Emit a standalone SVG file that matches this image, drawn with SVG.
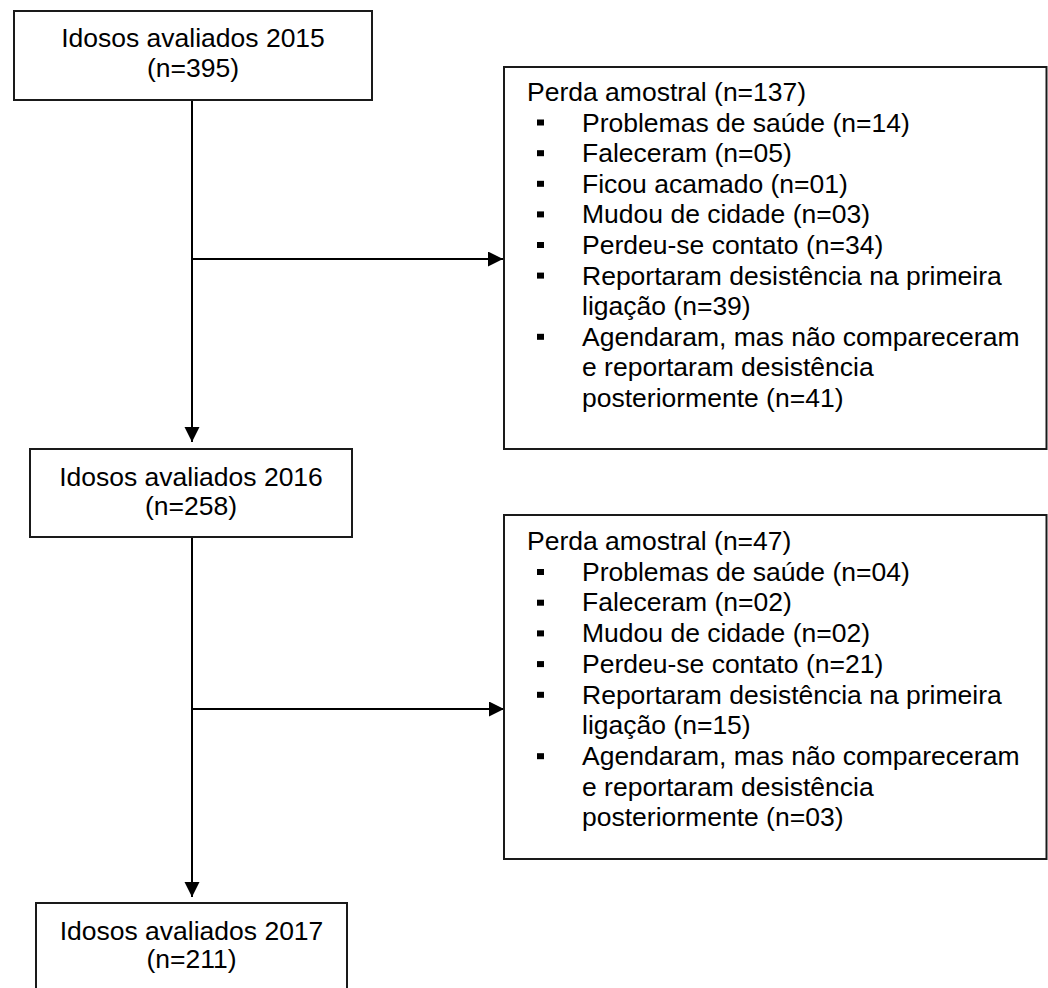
<svg xmlns="http://www.w3.org/2000/svg" width="1048" height="988" viewBox="0 0 1048 988">
<style>
.box{fill:#fff;stroke:#1a1a1a;stroke-width:2}
.t{font-family:"Liberation Sans",Arial,sans-serif;font-size:26.5px;fill:#000}
.c{text-anchor:middle}
.ln{fill:none;stroke:#000;stroke-width:2}
.b{fill:#000}
</style>
<defs>
<marker id="ah" markerUnits="userSpaceOnUse" markerWidth="16" markerHeight="16" refX="15" refY="7.5" orient="auto">
<path d="M0,0 L15,7.5 L0,15 Z" fill="#000"/>
</marker>
</defs>
<g id="connectors">
<line class="ln" x1="192" y1="100" x2="192" y2="442" marker-end="url(#ah)"/>
<line class="ln" x1="192" y1="259" x2="503" y2="259" marker-end="url(#ah)"/>
<line class="ln" x1="192" y1="537" x2="192" y2="897" marker-end="url(#ah)"/>
<line class="ln" x1="192" y1="709" x2="504" y2="709" marker-end="url(#ah)"/>
</g>
<g id="n2015">
<rect class="box" x="14" y="11" width="358" height="89"/>
<text class="t c" x="193" y="47">Idosos avaliados 2015</text>
<text class="t c" x="193" y="77">(n=395)</text>
</g>
<g id="loss1">
<rect class="box" x="504" y="67" width="542.5" height="382"/>
<text class="t" x="527" y="101">Perda amostral (n=137)</text>
<rect class="b" x="537" y="119.5" width="7" height="6"/>
<text class="t" x="582" y="131.6">Problemas de saúde (n=14)</text>
<rect class="b" x="537" y="150.2" width="7" height="6"/>
<text class="t" x="582" y="162.2">Faleceram (n=05)</text>
<rect class="b" x="537" y="180.8" width="7" height="6"/>
<text class="t" x="582" y="192.8">Ficou acamado (n=01)</text>
<rect class="b" x="537" y="211.4" width="7" height="6"/>
<text class="t" x="582" y="223.4">Mudou de cidade (n=03)</text>
<rect class="b" x="537" y="242" width="7" height="6"/>
<text class="t" x="582" y="254">Perdeu-se contato (n=34)</text>
<rect class="b" x="537" y="272.6" width="7" height="6"/>
<text class="t" x="582" y="284.6">Reportaram desistência na primeira</text>
<text class="t" x="582" y="315.2">ligação (n=39)</text>
<rect class="b" x="537" y="333.8" width="7" height="6"/>
<text class="t" x="582" y="345.8">Agendaram, mas não compareceram</text>
<text class="t" x="582" y="376.4">e reportaram desistência</text>
<text class="t" x="582" y="407">posteriormente (n=41)</text>
</g>
<g id="n2016">
<rect class="box" x="30" y="449" width="322" height="88"/>
<text class="t c" x="191" y="486">Idosos avaliados 2016</text>
<text class="t c" x="191" y="515">(n=258)</text>
</g>
<g id="loss2">
<rect class="box" x="504" y="515" width="542.5" height="344"/>
<text class="t" x="527" y="550">Perda amostral (n=47)</text>
<rect class="b" x="537" y="569" width="7" height="6"/>
<text class="t" x="582" y="580.7">Problemas de saúde (n=04)</text>
<rect class="b" x="537" y="599.7" width="7" height="6"/>
<text class="t" x="582" y="611.4">Faleceram (n=02)</text>
<rect class="b" x="537" y="630.4" width="7" height="6"/>
<text class="t" x="582" y="642.1">Mudou de cidade (n=02)</text>
<rect class="b" x="537" y="661.1" width="7" height="6"/>
<text class="t" x="582" y="672.8">Perdeu-se contato (n=21)</text>
<rect class="b" x="537" y="691.8" width="7" height="6"/>
<text class="t" x="582" y="703.5">Reportaram desistência na primeira</text>
<text class="t" x="582" y="734.2">ligação (n=15)</text>
<rect class="b" x="537" y="753.2" width="7" height="6"/>
<text class="t" x="582" y="764.9">Agendaram, mas não compareceram</text>
<text class="t" x="582" y="795.6">e reportaram desistência</text>
<text class="t" x="582" y="826.3">posteriormente (n=03)</text>
</g>
<g id="n2017">
<rect class="box" x="36" y="903" width="311" height="95"/>
<text class="t c" x="191.5" y="940">Idosos avaliados 2017</text>
<text class="t c" x="191.5" y="968">(n=211)</text>
</g>
</svg>
